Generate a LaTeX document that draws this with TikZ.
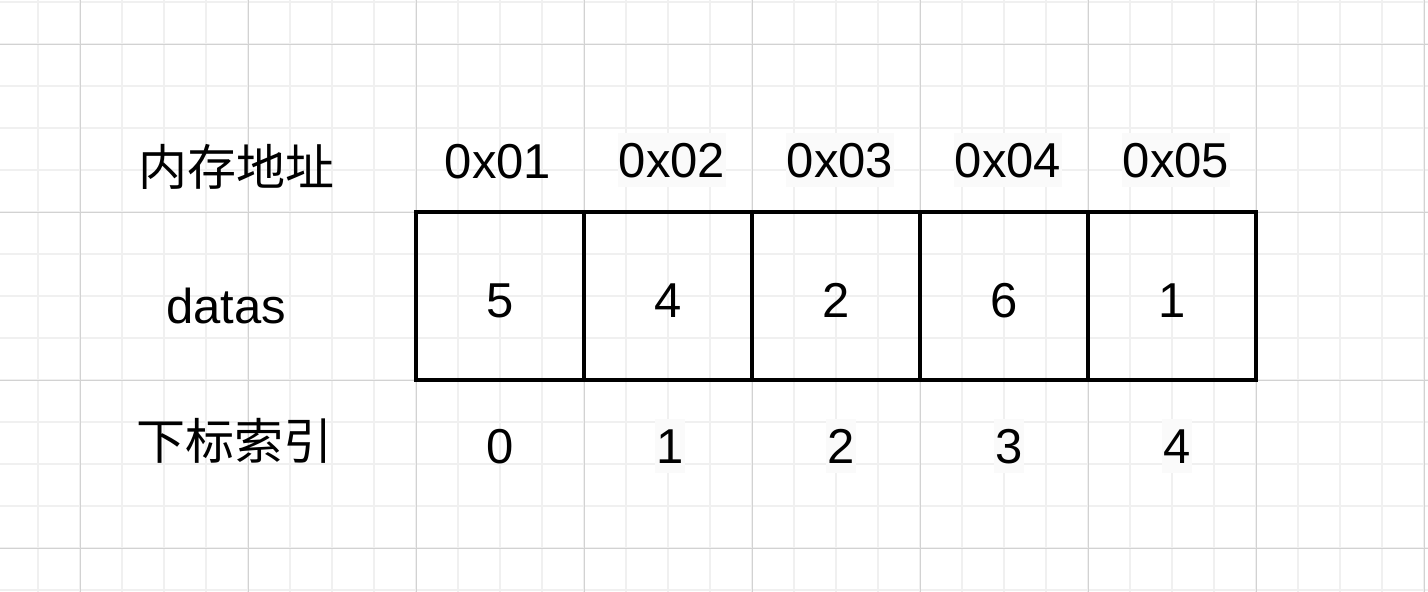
\documentclass[tikz,border=0pt]{standalone}
\usepackage{fontspec}
\setmainfont{Liberation Sans}
\newfontfamily\cjk{Noto Sans CJK SC}
\usepackage{xcolor}
\usetikzlibrary{positioning}
\definecolor{gridminor}{RGB}{240,240,240}
\definecolor{gridmajor}{RGB}{210,210,210}
\definecolor{labelbg}{RGB}{250,250,250}
\tikzset{
  cell/.style={rectangle, draw=black, line width=3.5pt, minimum width=168pt, minimum height=168pt, inner sep=0pt},
  value/.style={anchor=base, inner sep=0pt, font=\fontsize{49}{58}\selectfont},
  addr/.style={anchor=base, inner sep=0pt, font=\fontsize{49}{58}\selectfont},
  addrbg/.style={addr, fill=labelbg, inner xsep=1pt, inner ysep=10pt},
  rowlabel/.style={anchor=base, inner sep=0pt, font=\cjk\fontsize{49}{58}\selectfont},
  minorline/.style={draw=gridminor, line width=1.3pt},
  majorline/.style={draw=gridmajor, line width=1pt}
}

\begin{document}
\begin{tikzpicture}[x=1pt, y=-1pt]
  \useasboundingbox[fill=white] (0,0) rectangle (1428,592);

  % background grid (minor every 42, major every 168)
  \foreach \gx in {-4,38,...,1428} \draw[minorline] (\gx,0) -- (\gx,592);
  \foreach \gy in {2,44,...,592} \draw[minorline] (0,\gy) -- (1428,\gy);
  \foreach \gx in {80,248,...,1428} \draw[majorline] (\gx,0) -- (\gx,592);
  \foreach \gy in {44,212,380,548} \draw[majorline] (0,\gy) -- (1428,\gy);

  % row labels
  \node[rowlabel] (lblAddr) at (236,185) {内存地址};
  \node[addr] (lblData) at (226,323) {datas};
  \node[rowlabel] (lblIdx) at (234,459) {下标索引};

  % memory addresses
  \node[addr]   (A0) at (498,178) {0x01};
  \node[addrbg] (A1) at (672,177) {0x02};
  \node[addrbg] (A2) at (840,177) {0x03};
  \node[addrbg] (A3) at (1008,177) {0x04};
  \node[addrbg] (A4) at (1176,177) {0x05};

  % array cells
  \node[cell] (C0) at (500,296) {};
  \node[cell] (C1) at (668,296) {};
  \node[cell] (C2) at (836,296) {};
  \node[cell] (C3) at (1004,296) {};
  \node[cell] (C4) at (1172,296) {};

  % values stored in the cells
  \node[value] (V0) at (500,317) {5};
  \node[value] (V1) at (668,317) {4};
  \node[value] (V2) at (836,317) {2};
  \node[value] (V3) at (1004,317) {6};
  \node[value] (V4) at (1172,317) {1};

  % indices
  \node[addr]   (I0) at (500,463) {0};
  \node[addrbg] (I1) at (670,463) {1};
  \node[addrbg] (I2) at (841,463) {2};
  \node[addrbg] (I3) at (1009,463) {3};
  \node[addrbg] (I4) at (1177,463) {4};
\end{tikzpicture}
\end{document}
